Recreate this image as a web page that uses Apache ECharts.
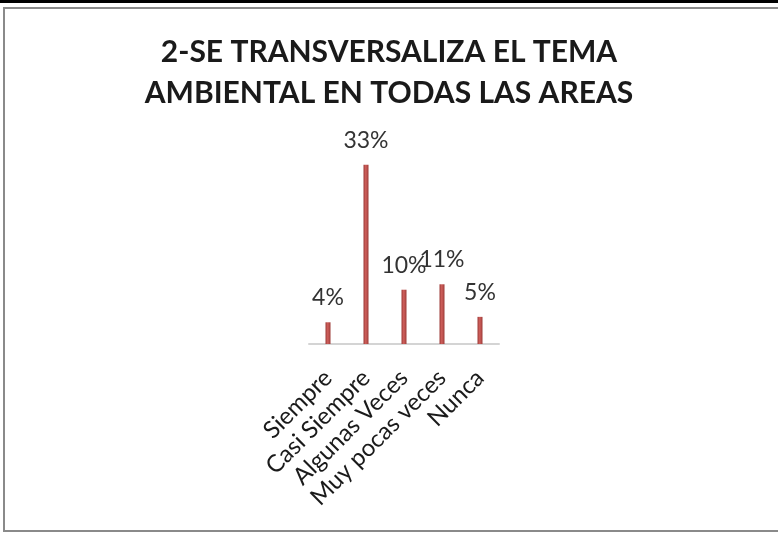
<!DOCTYPE html>
<html>
<head>
<meta charset="utf-8">
<script src="https://cdn.jsdelivr.net/npm/echarts@6/dist/echarts.min.js"></script>
<style>
  html, body { margin: 0; padding: 0; background: #fff; }
  #wrap { position: relative; width: 778px; height: 533px; overflow: hidden; }
  #topbar { position: absolute; left: 0; top: 0; width: 778px; height: 3px; background: #000; }
  #frame { position: absolute; left: 3px; top: 7px; width: 780px; height: 521px;
           border-left: 2px solid #8a8a8a; border-top: 2px solid #8a8a8a; border-bottom: 2px solid #8a8a8a; }
  #mainchart { position: absolute; left: 0; top: 0; width: 778px; height: 533px; }
</style>
</head>
<body>
<div id="wrap">
  <div id="topbar"></div>
  <div id="frame"></div>
  <div id="mainchart"></div>
</div>
<script>
var categories = ['Siempre', 'Casi Siempre', 'Algunas Veces', 'Muy pocas veces', 'Nunca'];
var percentages = [4, 33, 10, 11, 5];
var titleText = '2-SE TRANSVERSALIZA EL TEMA\nAMBIENTAL EN TODAS LAS AREAS';

var myChart = echarts.init(document.getElementById('mainchart'));

// barras delgadas con un leve efecto cilindrico
var barColor = new echarts.graphic.LinearGradient(0, 0, 1, 0, [
    { offset: 0, color: '#9c3a37' },
    { offset: 0.45, color: '#d0605c' },
    { offset: 1, color: '#9c3a37' }
]);

var option = {
    title: {
        text: titleText,
        left: 'center',
        top: 27,
        textStyle: {
            fontFamily: 'Lato',
            fontWeight: 'bold',
            fontSize: 30,
            lineHeight: 41,
            color: '#1a1a1a'
        }
    },
    grid: {
        left: 309,
        width: 190,
        top: 154,
        height: 190
    },
    xAxis: {
        type: 'category',
        data: categories,
        axisTick: { show: false },
        axisLine: { lineStyle: { color: '#d4d4d4', width: 2 } },
        axisLabel: {
            rotate: 45,
            margin: 30,
            interval: 0,
            fontFamily: 'Lato',
            fontSize: 24,
            color: '#1a1a1a'
        }
    },
    yAxis: {
        type: 'value',
        min: 0,
        max: 35,
        show: false,
        splitLine: { show: false }
    },
    series: [{
        type: 'bar',
        data: percentages,
        barWidth: 5,
        itemStyle: { color: barColor },
        label: {
            show: true,
            position: 'top',
            distance: 13,
            formatter: '{c}%',
            fontFamily: 'Lato',
            fontSize: 23,
            color: '#333'
        }
    }]
};
myChart.setOption(option);
</script>
</body>
</html>
